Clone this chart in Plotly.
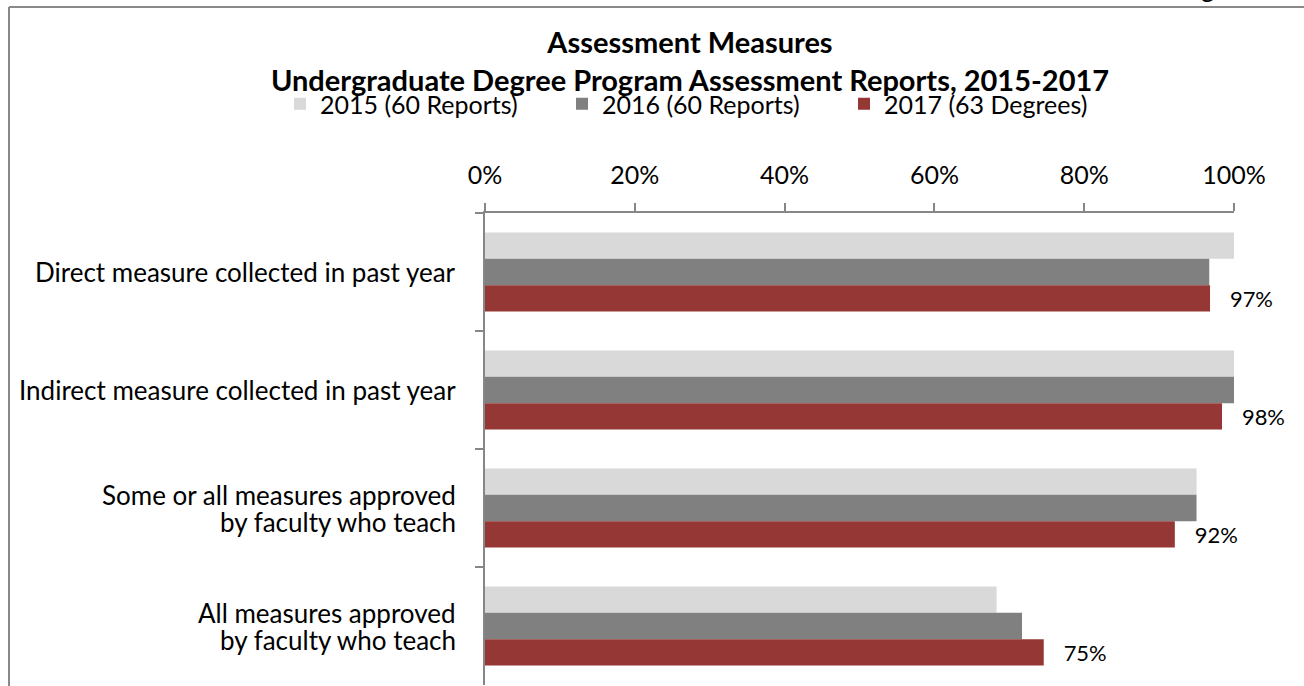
import plotly.graph_objects as go

categories = [
    "Direct measure collected in past year",
    "Indirect measure collected in past year",
    "Some or all measures approved<br>by faculty who teach",
    "All measures approved<br>by faculty who teach",
]
series_names = ["2015 (60 Reports)", "2016 (60 Reports)", "2017 (63 Degrees)"]
values_2015 = [1.00, 1.00, 0.950, 0.683]
values_2016 = [0.967, 1.00, 0.950, 0.717]
values_2017 = [0.968, 0.984, 0.921, 0.746]
colors = ["#D9D9D9", "#808080", "#953735"]
x_ticks = [0, 0.2, 0.4, 0.6, 0.8, 1.0]
x_tick_labels = ["0%", "20%", "40%", "60%", "80%", "100%"]

W, H = 1304, 686
FONT = "Lato"
FS = 26
LINE_H = 27  # line spacing of the category labels

fig = go.Figure()
for name, vals, col in zip(series_names, [values_2015, values_2016, values_2017], colors):
    show_text = name.startswith("2017")
    fig.add_trace(go.Bar(
        y=categories, x=vals, name=name, orientation="h",
        marker=dict(color=col, line=dict(width=0)),
        texttemplate="\u00a0\u00a0\u00a0%{x:.0%}" if show_text else None,
        textposition="outside" if show_text else "none",
        textfont=dict(family=FONT, size=25, color="#000000"),
        cliponaxis=False,
        hoverinfo="skip",
    ))

# category labels (drawn line by line for tighter line spacing)
label_annotations = []
for cat in categories:
    lines = cat.split("<br>")
    n = len(lines)
    for i, line in enumerate(lines):
        label_annotations.append(dict(
            text=line, xref="x", yref="y", x=0, y=cat,
            xanchor="right", yanchor="middle", xshift=-27,
            yshift=((n - 1) / 2 - i) * LINE_H,
            showarrow=False, font=dict(family=FONT, size=FS, color="#000000"),
        ))

fig.update_layout(
    width=W, height=H,
    margin=dict(l=0, r=0, t=0, b=0, pad=0, autoexpand=False),
    paper_bgcolor="white", plot_bgcolor="white",
    barmode="group", bargap=0.33, bargroupgap=0,
    font=dict(family=FONT, size=FS, color="#000000"),
    title=dict(
        text="<b>Assessment Measures<br>Undergraduate Degree Program Assessment Reports, 2015-2017</b>",
        x=690 / W, xanchor="center", xref="paper",
        y=1 - 53 / H, yanchor="middle", yref="paper",
        font=dict(family=FONT, size=29, color="#000000"),
    ),
    legend=dict(
        orientation="h", x=280 / W, xanchor="left",
        y=1 - 104 / H, yanchor="middle",
        font=dict(family=FONT, size=25, color="#000000"),
        traceorder="normal", entrywidth=237, entrywidthmode="pixels",
        bgcolor="rgba(0,0,0,0)",
    ),
    xaxis=dict(
        domain=[485 / W, 1234 / W], range=[0, 1.0], side="top",
        tickvals=x_ticks, ticktext=x_tick_labels,
        ticks="outside", ticklen=8, tickcolor="#868686", tickwidth=2,
        showline=True, linecolor="#868686", linewidth=2,
        showgrid=False, zeroline=False, automargin=False,
        tickfont=dict(family=FONT, size=25, color="#000000"),
        ticklabelstandoff=9,
        fixedrange=True,
    ),
    yaxis=dict(
        domain=[1 / H, 473 / H], autorange="reversed",
        tickson="boundaries", ticks="outside", ticklen=8,
        tickcolor="#868686", tickwidth=2,
        showline=True, linecolor="#868686", linewidth=2,
        showgrid=False, zeroline=False, automargin=False,
        showticklabels=False,
        fixedrange=True,
    ),
    shapes=[
        dict(type="line", xref="paper", yref="paper", x0=9 / W, x1=1, y0=1 - 7 / H, y1=1 - 7 / H,
             line=dict(color="#898989", width=2)),
        dict(type="line", xref="paper", yref="paper", x0=9 / W, x1=9 / W, y0=0, y1=1 - 7 / H,
             line=dict(color="#898989", width=2)),
    ],
    annotations=label_annotations + [
        dict(text="g", xref="paper", yref="paper", x=1208 / W, y=1 - 5 / H,
             xanchor="center", yanchor="bottom", showarrow=False,
             font=dict(family=FONT, size=FS, color="#000000")),
    ],
)

fig.write_html(
    "out.html",
    config={"displayModeBar": False},
    post_script="document.body.style.margin='0';document.body.style.overflow='hidden';",
)
